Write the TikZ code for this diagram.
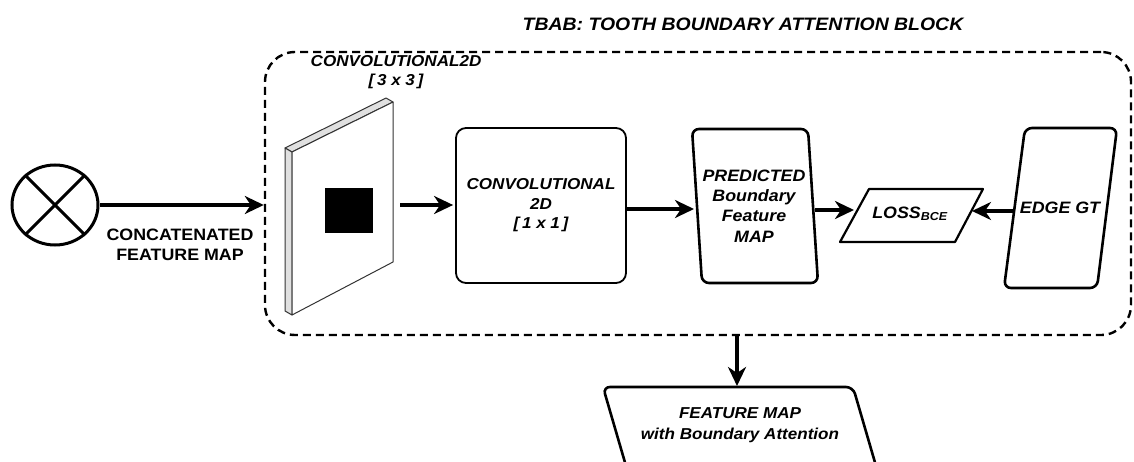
\documentclass[tikz,border=0pt]{standalone}
\usepackage{fontspec}
\setmainfont{Liberation Sans}[FakeStretch=1.08]
\usetikzlibrary{arrows.meta,shapes.geometric}
\begin{document}
\begin{tikzpicture}[x=1pt,y=-1pt,
  lbl/.style={font=\bfseries\itshape\fontsize{15.8}{19.5}\selectfont, align=center, inner sep=0pt},
  biglbl/.style={font=\bfseries\itshape\fontsize{16.5}{20.4}\selectfont, align=center, inner sep=0pt},
  plainlbl/.style={font=\bfseries\fontsize{16.5}{20}\selectfont, align=center, inner sep=0pt},
  arr/.style={line width=3.4pt, -{Stealth[length=19pt,width=18pt,inset=6pt]}},
  thickbox/.style={line width=2.6pt, rounded corners=7pt},
  slabface/.style={draw=black!80, line width=1pt, line join=round}
]
\useasboundingbox (0,0) rectangle (1134,462);

% title
\node[inner sep=0pt, font=\bfseries\itshape\fontsize{18}{22}\selectfont] (title) at (743,24.5) {TBAB: TOOTH BOUNDARY ATTENTION BLOCK};

% dashed block
\node[draw, line width=2.4pt, dash pattern=on 8pt off 5pt, rounded corners=30pt,
      minimum width=866pt, minimum height=283pt, inner sep=0pt] (tbab) at (698,193.5) {};

% circle with cross
\node[draw, ellipse, line width=3pt, minimum width=86pt, minimum height=80pt, inner sep=0pt] (cx) at (55,205) {};
\draw[line width=3pt] (cx.45) -- (cx.225) (cx.135) -- (cx.315);

\node[plainlbl] (concat) at (180,245) {CONCATENATED\\FEATURE MAP};
\draw[arr] (cx.east) -- (cx.east -| tbab.west);

% slab (conv 3x3)
\filldraw[slabface, fill=black!12] (285,148) -- (386,98) -- (393,102) -- (292,152) -- cycle;
\filldraw[slabface, fill=black!12] (285,148) -- (292,152) -- (292,315) -- (285,311) -- cycle;
\filldraw[slabface, fill=white] (292,152) -- (393,102) -- (393,262) -- (292,315) -- cycle;
\fill[black] (325,188) rectangle (373,233);
\coordinate (slabR) at (400,205);
\node[lbl] (c33t) at (396,72) {CONVOLUTIONAL2D\\{[}\,3 x 3\,{]}};

% conv 1x1
\node[draw, line width=1.8pt, rounded corners=10pt, minimum width=170pt, minimum height=155pt,
      inner sep=0pt, lbl] (c11) at (541,205.5) {CONVOLUTIONAL\\2D\\{[}\,1 x 1\,{]}};
\draw[arr] (slabR) -- ([xshift=-2pt]c11.west |- slabR);

% predicted
\draw[thickbox] (692,129) -- (808,129) -- (818,283) -- (702,283) -- cycle;
\node[biglbl] (pred) at (754,206) {PREDICTED\\Boundary\\Feature\\MAP};
\coordinate (predL) at (694,209);
\coordinate (predR) at (815,210);
\draw[arr] (c11.east |- predL) -- (predL);

% loss
\draw[line width=2.2pt, line join=round] (869,189) -- (983,189) -- (955,242) -- (840,242) -- cycle;
\node[biglbl] (loss) at (910,214) {LOSS\textsubscript{BCE}};
\coordinate (lossL) at (854,210);
\coordinate (lossR) at (972,211);
\draw[arr] (predR) -- (lossL);

% edge gt
\draw[thickbox] (1025,128) -- (1117,128) -- (1097,288) -- (1004,288) -- cycle;
\node[biglbl] (edge) at (1060,208) {EDGE GT};
\coordinate (edgeL) at (1014,211);
\draw[arr] (edgeL) -- (lossR);

% output feature map
\begin{scope}
\clip (0,0) rectangle (1134,462);
\draw[thickbox] (603,387) -- (853,387) -- (883,490) -- (633,490) -- cycle;
\end{scope}
\node[lbl, font=\bfseries\itshape\fontsize{15.8}{21}\selectfont] (fm) at (740,425.5) {FEATURE MAP\\with Boundary Attention};
\coordinate (fmtop) at (737,386);
\draw[arr] (tbab.south -| fmtop) -- (fmtop);
\end{tikzpicture}
\end{document}
